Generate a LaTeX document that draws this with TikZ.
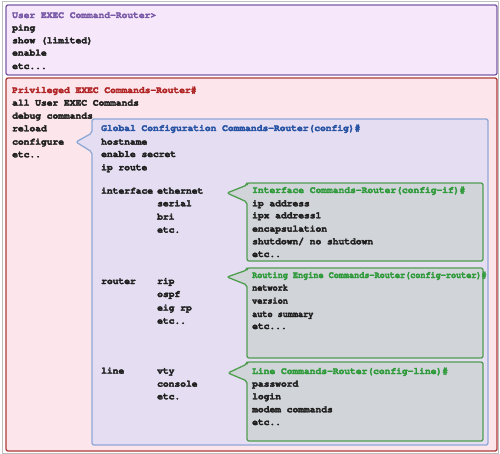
\documentclass[tikz,border=0pt]{standalone}
\usepackage{fontspec}
\setmonofont{Liberation Mono}
\newcommand{\crfont}{\fontencoding{T1}\fontfamily{pcr}\fontseries{b}\fontsize{9.6}{11}\selectfont}
\newcommand{\heavy}[1]{\special{pdf:literal direct 2 Tr 0.3 w}#1\special{pdf:literal direct 0 Tr}}
\newcommand{\narrowtxt}[1]{\scalebox{0.885}[1]{#1}}
\begin{document}
\begin{tikzpicture}[x=1pt,y=-1pt,
  txt/.style={anchor=base west,inner sep=0pt,font=\crfont,text=black!88},
  boxline/.style={line width=1.3pt,rounded corners=2pt},
  userbox/.style={boxline,draw=userc,fill=userf},
  privbox/.style={boxline,draw=privc,fill=privf},
  globbox/.style={boxline,draw=globc,fill=globf,line join=round},
  subbox/.style={boxline,draw=subc,fill=subf,line join=round},
]
\definecolor{userc}{HTML}{7A5AA8}
\definecolor{userf}{HTML}{F6E8FA}
\definecolor{privc}{HTML}{B03A3A}
\definecolor{privf}{HTML}{FDE6EB}
\definecolor{globc}{HTML}{8EA8D6}
\definecolor{globf}{HTML}{E5DDF2}
\definecolor{subc}{HTML}{4F9E4F}
\definecolor{subf}{HTML}{D1D5D9}
\definecolor{usert}{HTML}{7A5AA8}
\definecolor{privt}{HTML}{B02525}
\definecolor{globt}{HTML}{2552A3}
\definecolor{subt}{HTML}{2E9A3A}
\useasboundingbox (0,0) rectangle (500,454);
\draw[black!25,line width=0.8pt] (2,1.5) rectangle (498.5,453);
% boxes
\draw[userbox] (6,5) rectangle (497,75);
\draw[privbox] (6,78) rectangle (497,451);
\draw[globbox] (92,119) -- (488,119) -- (488,445) -- (92,445) -- (92,152) -- (76,142) -- (92,133) -- cycle;
\draw[subbox] (247,183) -- (483,183) -- (483,261) -- (247,261) -- (247,202) -- (227,193) -- (247,185) -- cycle;
\draw[subbox] (247,268) -- (483,268) -- (483,358) -- (247,358) -- (247,285) -- (227,277) -- (247,270) -- cycle;
\draw[subbox] (247,362) -- (483,362) -- (483,441) -- (247,441) -- (247,381) -- (228,373) -- (247,364) -- cycle;
% user
\node[txt,text=usert] (ut) at (12,18) {\heavy{User EXEC Command-Router>}};
\node[txt] (u1) at (12,30.7) {\heavy{ping}};
\node[txt] (u2) at (12,43.3) {\heavy{show (limited)}};
\node[txt] (u3) at (12,55.7) {\heavy{enable}};
\node[txt] (u4) at (12,69) {\heavy{etc...}};
% privileged
\node[txt,text=privt] (pt) at (12,93) {\heavy{Privileged EXEC Commands-Router\#}};
\node[txt] (p1) at (12,105.7) {\heavy{all User EXEC Commands}};
\node[txt] (p2) at (12,118.7) {\heavy{debug commands}};
\node[txt] (p3) at (12,131.3) {\heavy{reload}};
\node[txt] (p4) at (12,144.7) {\heavy{configure}};
\node[txt] (p5) at (12,157.3) {\heavy{etc..}};
% global
\node[txt,text=globt] (gt) at (101,131) {\heavy{Global Configuration Commands-Router(config)\#}};
\node[txt] (g1) at (101,144.7) {\heavy{hostname}};
\node[txt] (g2) at (101,157) {\heavy{enable secret}};
\node[txt] (g3) at (101,170.3) {\heavy{ip route}};
\node[txt] (g4) at (101,193.7) {\heavy{interface}};
\node[txt] (g4a) at (157,193.7) {\heavy{ethernet}};
\node[txt] (g4b) at (157,206.3) {\heavy{serial}};
\node[txt] (g4c) at (157,219.7) {\heavy{bri}};
\node[txt] (g4d) at (157,232.7) {\heavy{etc.}};
\node[txt] (g5) at (101,284) {\heavy{router}};
\node[txt] (g5a) at (157,284) {\heavy{rip}};
\node[txt] (g5b) at (157,297) {\heavy{ospf}};
\node[txt] (g5c) at (157,310.7) {\heavy{eig rp}};
\node[txt] (g5d) at (157,323.7) {\heavy{etc..}};
\node[txt] (g6) at (101,373.7) {\heavy{line}};
\node[txt] (g6a) at (157,373.7) {\heavy{vty}};
\node[txt] (g6b) at (157,386.7) {\heavy{console}};
\node[txt] (g6c) at (157,399.3) {\heavy{etc.}};
% interface
\node[txt,text=subt] (it) at (252,193) {\heavy{Interface Commands-Router(config-if)\#}};
\node[txt] (i1) at (252,206.3) {\heavy{ip address}};
\node[txt] (i2) at (252,218.3) {\heavy{ipx address1}};
\node[txt] (i3) at (252,231.7) {\heavy{encapsulation}};
\node[txt] (i4) at (252,244.3) {\heavy{shutdown/ no shutdown}};
\node[txt] (i5) at (252,257) {\heavy{etc..}};
% routing
\node[txt,text=subt] (rt) at (252,278) {\narrowtxt{\heavy{Routing Engine Commands-Router(config-router)\#}}};
\node[txt] (r1) at (252,290.7) {\narrowtxt{\heavy{network}}};
\node[txt] (r2) at (252,303.7) {\narrowtxt{\heavy{version}}};
\node[txt] (r3) at (252,317) {\narrowtxt{\heavy{auto summary}}};
\node[txt] (r4) at (252,329) {\heavy{etc...}};
% line
\node[txt,text=subt] (lt) at (252,374) {\heavy{Line Commands-Router(config-line)\#}};
\node[txt] (l1) at (252,386.7) {\heavy{password}};
\node[txt] (l2) at (252,399.3) {\heavy{login}};
\node[txt] (l3) at (252,412.3) {\heavy{modem commands}};
\node[txt] (l4) at (252,425) {\heavy{etc..}};
\end{tikzpicture}
\end{document}
